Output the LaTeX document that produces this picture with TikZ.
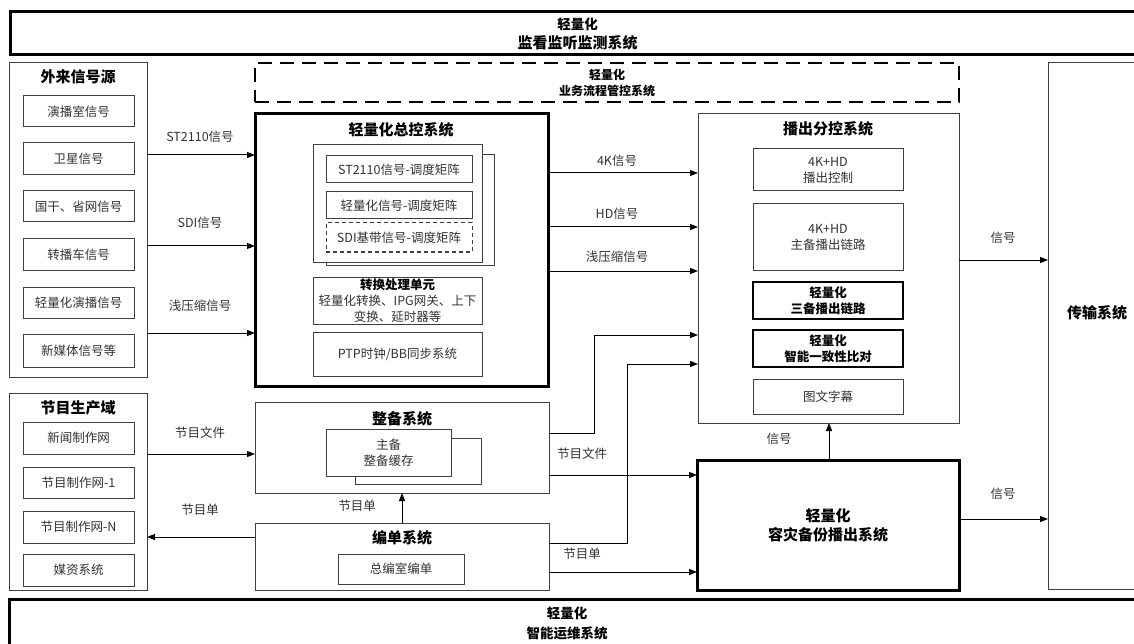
\documentclass[tikz,border=0pt]{standalone}
\usepackage{fontspec}
\setmainfont{Noto Sans CJK SC}
\usetikzlibrary{arrows.meta}
\definecolor{txt}{HTML}{333333}
\definecolor{ln}{HTML}{404040}
\tikzset{
  thinbox/.style={draw=ln, line width=1pt, fill=white, inner sep=0pt, outer sep=0pt, text=txt, font=\fontsize{12.5}{16}\selectfont, align=center},
  thickbox/.style={draw=black, line width=3pt, fill=white, inner sep=0pt, outer sep=0pt, align=center, font=\bfseries\fontsize{15}{19}\selectfont},
  medbox/.style={draw=black, line width=2.5pt, fill=white, inner sep=0pt, outer sep=0pt, align=center, font=\bfseries\fontsize{12.5}{15.5}\selectfont},
  dashbox/.style={draw=black, line width=2.8pt, dash pattern=on 14pt off 8pt, inner sep=0pt, outer sep=0pt, align=center, font=\bfseries\fontsize{12}{16}\selectfont},
  dashthin/.style={thinbox, dash pattern=on 4pt off 3pt},
  title/.style={font=\bfseries\fontsize{15}{18}\selectfont, text=black, inner sep=0pt, align=center},
  lbl/.style={font=\fontsize{12.5}{14}\selectfont, text=txt, inner sep=0pt},
  arr/.style={draw=black, line width=1pt, -{Triangle[length=8pt,width=6pt]}},
  conn/.style={draw=black, line width=1pt},
}
\newcommand\mkbox[7]{\node[#1, anchor=north west, minimum width=#5-#3, minimum height=#6-#4] (#2) at (#3,#4) {#7};}
\begin{document}
\begin{tikzpicture}[x=1pt,y=-1pt]
\useasboundingbox (0,0) rectangle (1134,644);
% top and bottom bands
\mkbox{thickbox}{top}{10}{12}{1145}{55}{\fontsize{13.5}{20}\selectfont 轻量化\\监看监听监测系统}
\mkbox{thickbox}{bot}{9}{599}{1145}{680}{}
\node[title, font=\bfseries\fontsize{13.5}{20}\selectfont] (bott) at (567,623) {轻量化\\智能运维系统};
% dashed band
\mkbox{dashbox}{yw}{255}{63}{959}{102}{轻量化\\业务流程管控系统}
% external sources
\mkbox{thinbox}{wl}{9}{63}{147}{377}{}
\node[title] (wlt) at (78,77) {外来信号源};
\mkbox{thinbox}{s1}{23}{96}{134}{127}{演播室信号}
\mkbox{thinbox}{s2}{23}{143}{134}{175}{卫星信号}
\mkbox{thinbox}{s3}{23}{191}{134}{222}{国干、省网信号}
\mkbox{thinbox}{s4}{23}{239}{134}{270}{转播车信号}
\mkbox{thinbox}{s5}{23}{287}{134}{318}{轻量化演播信号}
\mkbox{thinbox}{s6}{23}{334}{134}{367}{新媒体信号等}
% production domain
\mkbox{thinbox}{pd}{9}{393}{147}{590}{}
\node[title] (pdt) at (78,408) {节目生产域};
\mkbox{thinbox}{p1}{23}{422}{134}{454}{新闻制作网}
\mkbox{thinbox}{p2}{23}{467}{134}{498}{节目制作网-1}
\mkbox{thinbox}{p3}{23}{511}{134}{543}{节目制作网-N}
\mkbox{thinbox}{p4}{23}{554}{134}{586}{媒资系统}
% master control
\mkbox{thickbox}{zk}{255}{114}{548}{386}{}
\node[title] (zkt) at (401,130) {轻量化总控系统};
\mkbox{thinbox}{mb}{326}{155}{494}{265}{}
\mkbox{thinbox}{mf}{313}{145}{482}{262}{}
\mkbox{thinbox}{m1}{326}{156}{472}{183}{ST2110信号-调度矩阵}
\mkbox{thinbox}{m2}{326}{192}{472}{219}{轻量化信号-调度矩阵}
\mkbox{dashthin}{m3}{326}{223}{472}{252}{SDI基带信号-调度矩阵}
\mkbox{thinbox}{cv}{313}{277}{482}{324}{{\bfseries\color{black}转换处理单元}\\轻量化转换、IPG网关、上下\\变换、延时器等}
\mkbox{thinbox}{ptp}{313}{332}{482}{376}{PTP时钟/BB同步系统}
% prep system
\mkbox{thinbox}{zb}{255}{402}{549}{493}{}
\node[title] (zbt) at (402,419) {整备系统};
\mkbox{thinbox}{zbb}{355}{438}{481}{484}{}
\mkbox{thinbox}{zbf}{326}{429}{451}{476}{主备\\整备缓存}
% scheduling system
\mkbox{thinbox}{bd}{255}{523}{549}{590}{}
\node[title] (bdt) at (402,538) {编单系统};
\mkbox{thinbox}{bdi}{338}{554}{464}{584}{总编室编单}
% playout branch control
\mkbox{thinbox}{bc}{698}{114}{959}{423}{}
\node[title] (bct) at (828,129) {播出分控系统};
\mkbox{thinbox}{b1}{753}{149}{903}{191}{4K+HD\\播出控制}
\mkbox{thinbox}{b2}{753}{204}{903}{270}{4K+HD\\主备播出链路}
\mkbox{medbox}{b3}{753}{282}{903}{319}{轻量化\\三备播出链路}
\mkbox{medbox}{b4}{753}{330}{903}{367}{轻量化\\智能一致性比对}
\mkbox{thinbox}{b5}{753}{379}{903}{414}{图文字幕}
% disaster backup
\mkbox{thickbox}{zr}{697}{460}{959}{590}{轻量化\\容灾备份播出系统}
% transmission
\mkbox{thinbox}{cs}{1048}{63}{1145}{589}{}
\node[title] (cst) at (1097,313) {传输系统};
% connectors left
\draw[arr] (wl.east |- 0,155) -- (zk.west |- 0,155);
\draw[arr] (wl.east |- 0,246) -- (zk.west |- 0,246);
\draw[arr] (wl.east |- 0,333) -- (zk.west |- 0,333);
\node[lbl] (l1) at (200,137) {ST2110信号};
\node[lbl] (l2) at (200,223) {SDI信号};
\node[lbl] (l3) at (200,306) {浅压缩信号};
\draw[arr] (pd.east |- 0,454) -- (zb.west |- 0,454);
\draw[arr] (bd.west |- 0,537) -- (pd.east |- 0,537);
\node[lbl] (l4) at (200,433) {节目文件};
\node[lbl] (l5) at (200,510) {节目单};
\draw[arr] (402,0 |- bd.north) -- (402,0 |- zb.south);
\node[lbl] (l6) at (357,506) {节目单};
% master -> playout
\draw[arr] (zk.east |- 0,173) -- (bc.west |- 0,173);
\draw[arr] (zk.east |- 0,227) -- (bc.west |- 0,227);
\draw[arr] (zk.east |- 0,271) -- (bc.west |- 0,271);
\node[lbl] (l7) at (617,161) {4K信号};
\node[lbl] (l8) at (617,214) {HD信号};
\node[lbl] (l9) at (617,257) {浅压缩信号};
% prep/schedule -> playout
\draw[arr] (zb.east |- 0,433) -| (594,335) -- (bc.west |- 0,335);
\draw[arr] (bd.east |- 0,543) -| (627,364) -- (bc.west |- 0,364);
\draw[arr] (zb.east |- 0,475) -- (zr.west |- 0,475);
\draw[arr] (bd.east |- 0,572) -- (zr.west |- 0,572);
\node[lbl] (l10) at (582,454) {节目文件};
\node[lbl] (l11) at (582,554) {节目单};
% backup -> playout, transmission
\draw[arr] (829,0 |- zr.north) -- (829,0 |- bc.south);
\node[lbl] (l12) at (779,439) {信号};
\draw[arr] (bc.east |- 0,260) -- (cs.west |- 0,260);
\node[lbl] (l13) at (1003,238) {信号};
\draw[arr] (zr.east |- 0,519) -- (cs.west |- 0,519);
\node[lbl] (l14) at (1003,494) {信号};
\end{tikzpicture}
\end{document}
